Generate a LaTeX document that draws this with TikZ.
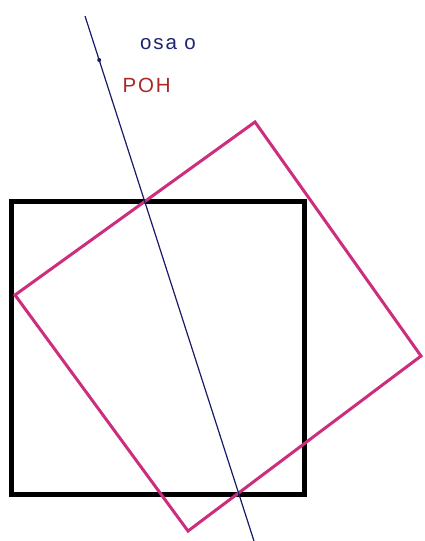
\documentclass[tikz,border=0pt]{standalone}
\usepackage{fontspec}
\setmainfont{Liberation Sans}[LetterSpace=9]
\definecolor{pinkline}{RGB}{205,45,125}
\definecolor{axisblue}{RGB}{25,25,105}
\definecolor{labelblue}{RGB}{30,35,110}
\definecolor{labelred}{RGB}{170,40,40}
\begin{document}
\begin{tikzpicture}[x=1pt,y=-1pt,
  blacksq/.style={draw=black,line width=5pt,line join=miter},
  pinksq/.style={draw=pinkline,line width=3pt,line join=miter},
  axisline/.style={draw=axisblue,line width=1.2pt},
  lbl/.style={inner sep=0pt,anchor=base west,font=\fontsize{20.5}{24}\selectfont}]
\useasboundingbox (0,0) rectangle (424,541);
% black square
\coordinate (k1) at (11,201);
\coordinate (k2) at (304,201);
\coordinate (k3) at (304,494);
\coordinate (k4) at (11,494);
\draw[blacksq] (k1) -- (k2) -- (k3) -- (k4) -- cycle;
% rotated pink square
\coordinate (p1) at (255,122);
\coordinate (p2) at (421,356);
\coordinate (p3) at (188,531);
\coordinate (p4) at (15,295);
\draw[pinksq] (p1) -- (p2) -- (p3) -- (p4) -- cycle;
% axis o
\coordinate (o1) at (85,16);
\coordinate (o2) at (254,541);
\draw[axisline] (o1) -- (o2);
\node[circle,fill=axisblue,inner sep=0pt,minimum size=4pt] (pt) at (99.2,60) {};
% labels
\node[lbl,text=labelblue] (osa) at (140,49.5) {osa o};
\node[lbl,text=labelred] (poh) at (122.5,92) {POH};
\end{tikzpicture}
\end{document}
